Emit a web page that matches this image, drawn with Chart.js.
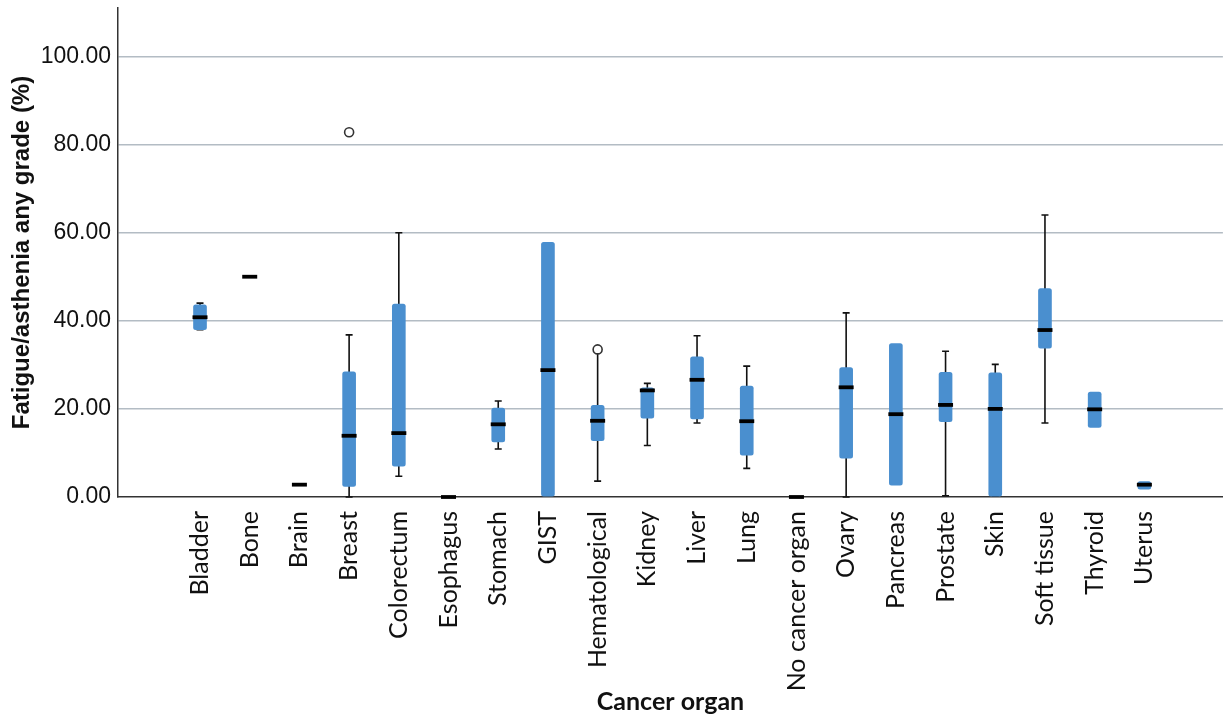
<!DOCTYPE html>
<html>
<head>
<meta charset="utf-8">
<script src="https://cdn.jsdelivr.net/npm/chart.js@4/dist/chart.umd.min.js"></script>
<style>
  html, body { margin: 0; padding: 0; background: #fff; }
  #wrap { width: 1229px; height: 719px; }
</style>
</head>
<body>
<div id="wrap"><canvas id="grafico"></canvas></div>
<script>
// Datos (%)
const organs = ['Bladder', 'Bone', 'Brain', 'Breast', 'Colorectum', 'Esophagus', 'Stomach', 'GIST', 'Hematological', 'Kidney',
    'Liver', 'Lung', 'No cancer organ', 'Ovary', 'Pancreas', 'Prostate', 'Skin', 'Soft tissue', 'Thyroid', 'Uterus'];
const q1 =          [38,   null, null, 2.4,  7,    null, 12.5, 0,    12.8, 17.9, 17.7, 9.5,  null, 8.8,  2.7,  17.1, 0.2,  33.8, 15.8, 1.8];
const q3 =          [43.6, null, null, 28.4, 43.8, null, 20.2, 57.8, 20.8, 24.8, 31.8, 25.2, null, 29.4, 34.8, 28.3, 28.2, 47.3, 23.8, 3.5];
const medians =     [40.8, 50,   2.8,  13.9, 14.5, 0,    16.5, 28.8, 17.3, 24.2, 26.6, 17.2, 0,    24.9, 18.8, 20.9, 20,   37.9, 19.9, 2.8];
const whiskerLow =  [38,   null, null, 0,    4.7,  null, 10.9, null, 3.6,  11.7, 16.8, 6.5,  null, 0,    null, 0.3,  0.2,  16.8, null, null];
const whiskerHigh = [44,   null, null, 36.8, 60,   null, 21.8, null, 33.0, 25.8, 36.6, 29.7, null, 41.8, null, 33.1, 30.1, 64,   null, null];
const outliers = [{ organ: 3, value: 82.8 }, { organ: 8, value: 33.5 }];
const yTicks = [0, 20, 40, 60, 80, 100];

const colorCaja = '#4a8fcf';

// Bigotes, tapas y medianas dibujados con las escalas del gráfico
const boxParts = {
    id: 'boxParts',
    beforeDatasetsDraw(chart) {
        const { ctx, scales: { x, y } } = chart;
        ctx.save();
        ctx.strokeStyle = '#111';
        ctx.lineWidth = 1.6;
        organs.forEach((_, i) => {
            if (whiskerLow[i] == null) return;
            const px = x.getPixelForValue(i);
            const yl = y.getPixelForValue(whiskerLow[i]);
            const yh = y.getPixelForValue(whiskerHigh[i]);
            ctx.beginPath();
            ctx.moveTo(px, yl); ctx.lineTo(px, yh);
            ctx.moveTo(px - 3.5, yl); ctx.lineTo(px + 3.5, yl);
            ctx.moveTo(px - 3.5, yh); ctx.lineTo(px + 3.5, yh);
            ctx.stroke();
        });
        ctx.restore();
    },
    afterDatasetsDraw(chart) {
        const { ctx, scales: { x, y } } = chart;
        ctx.save();
        ctx.strokeStyle = '#000';
        ctx.lineWidth = 3.8;
        medians.forEach((m, i) => {
            const px = x.getPixelForValue(i);
            const py = y.getPixelForValue(m);
            ctx.beginPath();
            ctx.moveTo(px - 7.5, py); ctx.lineTo(px + 7.5, py);
            ctx.stroke();
        });
        ctx.restore();
    }
};

const cajas = [];
organs.forEach((_, i) => { if (q1[i] != null) cajas.push({ x: i, y: [q1[i], q3[i]] }); });

new Chart(document.getElementById('grafico'), {
    type: 'bar',
    data: {
        datasets: [
            {
                data: cajas,
                backgroundColor: colorCaja,
                borderWidth: 0,
                borderRadius: 2.5,
                borderSkipped: false,
                barThickness: 13,
                grouped: false,
                order: 2
            },
            {
                type: 'scatter',
                data: outliers.map(o => ({ x: o.organ, y: o.value })),
                pointStyle: 'circle',
                radius: 4.5,
                borderWidth: 1.6,
                borderColor: '#333',
                backgroundColor: '#fff',
                order: 1
            }
        ]
    },
    options: {
        responsive: true,
        maintainAspectRatio: false,
        animation: false,
        layout: { padding: { top: 8, right: 4, left: 4, bottom: 0 } },
        plugins: { legend: { display: false }, tooltip: { enabled: false } },
        scales: {
            x: {
                type: 'linear',
                offset: false,
                min: -1.65,
                max: 20.58,
                afterBuildTicks: s => { s.ticks = organs.map((_, i) => ({ value: i })); },
                afterFit: s => { s.height = 222; s.paddingLeft = 0; s.paddingRight = 0; },
                grid: { display: false, drawTicks: false, offset: false },
                border: { color: '#333', width: 1.5 },
                ticks: {
                    autoSkip: false,
                    minRotation: 90,
                    maxRotation: 90,
                    padding: 14,
                    color: '#111',
                    font: { family: 'Lato', size: 25 },
                    callback: v => organs[v] ?? ''
                },
                title: {
                    display: true,
                    text: 'Cancer organ',
                    color: '#111',
                    font: { family: 'Lato', size: 25, weight: 'bold' },
                    padding: { top: 0, bottom: 2 }
                }
            },
            y: {
                min: 0,
                max: 111,
                afterBuildTicks: s => { s.ticks = yTicks.map(v => ({ value: v })); },
                afterFit: s => { s.width = 114; s.paddingTop = 0; s.paddingBottom = 0; },
                grid: {
                    color: ctx => ctx.tick && ctx.tick.value === 0 ? 'rgba(0,0,0,0)' : '#b3bcc4',
                    lineWidth: 1.5,
                    drawTicks: false
                },
                border: { color: '#333', width: 1.5 },
                ticks: {
                    padding: 7,
                    color: '#111',
                    font: { family: 'Liberation Sans', size: 23 },
                    callback: v => v.toFixed(2)
                },
                title: {
                    display: true,
                    text: 'Fatigue/asthenia any grade (%)',
                    color: '#111',
                    font: { family: 'Liberation Sans', size: 24, weight: 'bold' },
                    padding: { top: 4, bottom: 0 }
                }
            }
        }
    },
    plugins: [boxParts]
});
</script>
</body>
</html>
